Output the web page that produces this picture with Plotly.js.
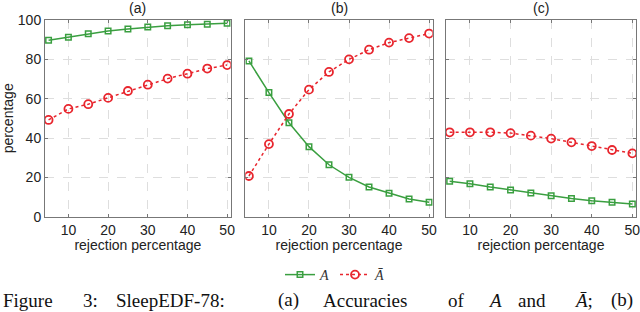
<!DOCTYPE html>
<html>
<head>
<meta charset="utf-8">
<script src="https://cdn.plot.ly/plotly-3.0.1.min.js"></script>
<style>html,body{margin:0;padding:0;background:#fff;}#chart{width:640px;height:312px;}</style>
</head>
<body>
<div id="chart"></div>
<script>
const rejection = [5, 10, 15, 20, 25, 30, 35, 40, 45, 50];
const panelTitles = ['(a)', '(b)', '(c)'];
const seriesNames = ['<i>A</i>', '<i>Ā</i>'];
const accA_a = [89.7, 91.2, 93.0, 94.4, 95.4, 96.4, 97.1, 97.6, 97.9, 98.3];
const accAbar_a = [49.2, 54.8, 57.2, 60.4, 63.9, 67.1, 70.2, 72.7, 75.3, 77.1];
const accA_b = [79.2, 63.1, 47.8, 35.6, 26.4, 20.0, 15.1, 11.9, 9.0, 7.3];
const accAbar_b = [20.7, 36.9, 52.2, 64.6, 73.6, 80.0, 84.9, 88.5, 90.8, 93.1];
const accA_c = [18.0, 16.8, 15.1, 13.6, 12.0, 10.7, 9.3, 8.1, 7.3, 6.4];
const accAbar_c = [42.9, 42.9, 42.9, 42.5, 41.2, 39.7, 37.8, 35.9, 33.9, 32.2];
const xTicks = [10, 20, 30, 40, 50];
const yTicks = [0, 20, 40, 60, 80, 100];
const xTitle = 'rejection percentage';
const yTitle = 'percentage';
const caption = [['Figure', 2], ['3:', 82], ['SleepEDF-78:', 115], ['(a)', 277], ['Accuracies', 322], ['of', 447], ['<i>A</i>', 487], ['and', 517], ['<i>Ā</i>;', 573], ['(b)', 610]];

const green = '#3a9f40';
const red = '#e8262e';
const W = 640, H = 312;
const dom = [[45, 230.7], [245.3, 432.7], [446, 636]];
const yDom = [1 - 216.7 / H, 1 - 20 / H];
const As = [accA_a, accA_b, accA_c];
const Abars = [accAbar_a, accAbar_b, accAbar_c];
const traces = [];
const layout = {
  width: W, height: H,
  margin: {l: 0, r: 0, t: 0, b: 0},
  paper_bgcolor: '#fff', plot_bgcolor: '#fff',
  font: {family: 'Liberation Sans, Arial, sans-serif', size: 14, color: '#222'},
  showlegend: true,
  legend: {orientation: 'h', x: 0.5 + 15 / W, xanchor: 'center', y: 1 - 275 / H, yanchor: 'middle',
    font: {family: 'Liberation Serif, serif', size: 14, color: '#333'}, itemwidth: 30, tracegroupgap: 0},
  annotations: []
};
for (let p = 0; p < 3; p++) {
  const sx = p === 0 ? '' : String(p + 1);
  traces.push({x: rejection, y: As[p], xaxis: 'x' + sx, yaxis: 'y' + sx, type: 'scatter', mode: 'lines+markers',
    name: seriesNames[0], showlegend: p === 0, legendgroup: 'A',
    line: {color: green, width: 1.5},
    marker: {symbol: 'square-open', size: 5.5, color: green, line: {width: 1.5, color: green}}});
  traces.push({x: rejection, y: Abars[p], xaxis: 'x' + sx, yaxis: 'y' + sx, type: 'scatter', mode: 'lines+markers',
    name: seriesNames[1], showlegend: p === 0, legendgroup: 'B',
    line: {color: red, width: 1.5, dash: 'dot'},
    marker: {symbol: 'circle-open', size: 8, color: red, line: {width: 1.8, color: red}}});
  const common = {showline: true, mirror: 'ticks', linecolor: '#777', linewidth: 1,
    ticks: 'inside', ticklen: 3, tickcolor: '#777',
    showgrid: true, gridcolor: '#dedede', griddash: 'dash', gridwidth: 1, zeroline: false,
    ticklabeloverflow: 'allow',
    tickfont: {size: 14, color: '#222'}};
  layout['xaxis' + sx] = Object.assign({}, common, {
    domain: [dom[p][0] / W, dom[p][1] / W], range: [4.1, 50.9], anchor: 'y' + sx,
    tickvals: xTicks, ticktext: xTicks.map(String),
    title: {text: xTitle, font: {size: 14, color: '#222'}, standoff: 2}});
  layout['yaxis' + sx] = Object.assign({}, common, {
    domain: yDom, range: [0, 100], anchor: 'x' + sx,
    tickvals: yTicks, ticktext: yTicks.map(String), showticklabels: p === 0,
    title: p === 0 ? {text: yTitle, font: {size: 14, color: '#222'}, standoff: 4} : {text: ''}});
  layout.annotations.push({text: panelTitles[p], xref: 'paper', yref: 'paper',
    x: (dom[p][0] + dom[p][1]) / 2 / W, y: 1 - 8 / H, xanchor: 'center', yanchor: 'middle',
    showarrow: false, font: {size: 14, color: '#222'}});
}
caption.forEach(([t, px]) => {
  layout.annotations.push({text: t, xref: 'paper', yref: 'paper', x: px / W, y: 0,
    xanchor: 'left', yanchor: 'bottom', showarrow: false, borderpad: 0,
    font: {family: 'Liberation Serif, Times New Roman, serif', size: 19, color: '#111'}});
});
Plotly.newPlot('chart', traces, layout, {displayModeBar: false, staticPlot: true});
</script>
</body>
</html>
